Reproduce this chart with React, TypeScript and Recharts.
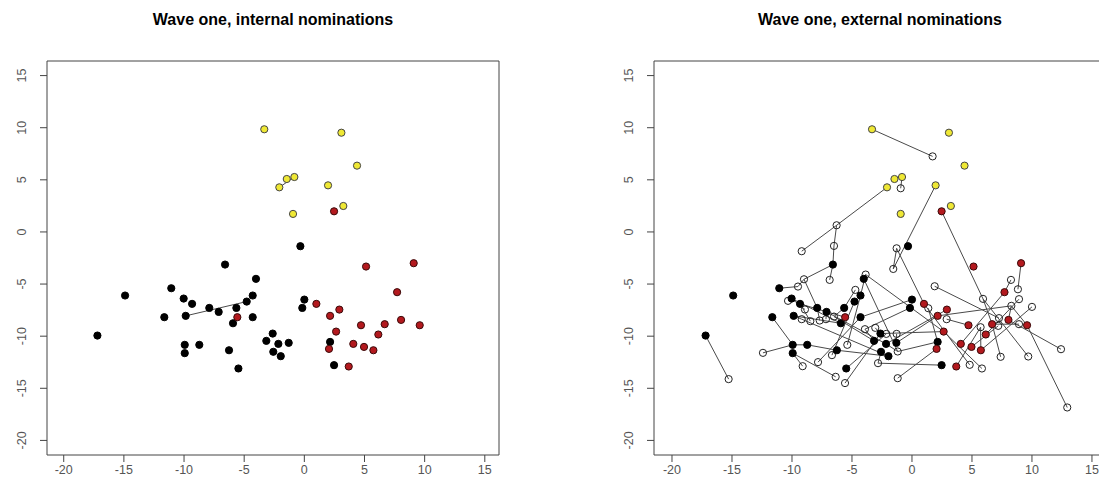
import React from 'react';
import { ScatterChart, Scatter, XAxis, YAxis, ReferenceArea } from 'recharts';

const axisTicks = [-20, -15, -10, -5, 0, 5, 10, 15];

// members of the network, in the plot's own units
const blackNodes: [number, number][] = [
    [-17.2, -9.94], [-14.9, -6.1], [-11.06, -5.4], [-11.64, -8.18], [-10.03, -6.39],
    [-9.33, -6.9], [-9.86, -8.05], [-7.9, -7.29], [-7.12, -7.67], [-5.65, -7.29],
    [-4.79, -6.68], [-4.29, -6.1], [-4.02, -4.5], [-6.59, -3.13], [-4.29, -8.18],
    [-5.93, -8.76], [-9.94, -10.83], [-9.94, -11.63], [-8.73, -10.83], [-6.26, -11.35],
    [-5.48, -13.1], [-2.63, -9.75], [-3.16, -10.45], [-2.16, -10.74], [-1.3, -10.64],
    [-2.58, -11.5], [-1.96, -11.92], [-0.33, -1.37], [0, -6.49], [-0.17, -7.29],
    [2.14, -10.55], [2.47, -12.78],
];

const redNodes: [number, number][] = [
    [2.47, 1.98], [5.13, -3.32], [9.09, -3.0], [7.71, -5.78], [1.0, -6.9],
    [2.14, -8.05], [2.91, -7.45], [2.64, -9.56], [4.71, -8.95], [6.68, -8.85],
    [8.04, -8.44], [9.59, -8.95], [6.15, -9.84], [4.07, -10.74], [4.96, -11.03],
    [5.74, -11.35], [2.05, -11.22], [3.69, -12.91], [-5.57, -8.18],
];

const yellowNodes: [number, number][] = [
    [-3.33, 9.85], [3.08, 9.52], [4.38, 6.36], [-2.08, 4.28], [-1.46, 5.08],
    [-0.83, 5.27], [1.97, 4.47], [3.24, 2.49], [-0.94, 1.73],
];

// people named from outside the school
const openNodes: [number, number][] = [
    [1.72, 7.25], [-0.94, 4.19], [-6.28, 0.64], [-9.19, -1.85], [-6.5, -1.34],
    [-1.28, -1.57], [-1.56, -3.55], [-9.0, -4.54], [-9.5, -5.24], [-6.86, -4.6],
    [-3.86, -4.09], [-4.72, -5.56], [1.89, -5.21], [5.92, -6.42], [8.25, -4.6],
    [8.83, -5.5], [8.92, -6.45], [10.0, -7.19], [8.28, -7.09], [1.36, -7.32],
    [2.89, -8.37], [5.72, -9.14], [7.25, -8.27], [7.19, -9.01], [8.92, -8.85],
    [-10.33, -6.61], [-8.92, -7.44], [-9.19, -8.37], [-8.47, -8.56], [-7.69, -8.5],
    [-7.17, -8.37], [-6.5, -8.12], [-5.39, -10.83], [-6.67, -11.82], [-7.83, -12.49],
    [-9.11, -12.88], [-6.36, -13.9], [-5.58, -14.5], [-12.42, -11.6], [-15.28, -14.12],
    [-3.92, -9.33], [-3.06, -9.2], [-2.14, -9.78], [-1.28, -9.78], [-1.19, -11.47],
    [-2.83, -12.59], [-1.19, -14.03], [4.81, -12.75], [5.83, -13.1], [7.39, -11.98],
    [9.69, -11.95], [12.42, -11.25], [12.94, -16.84],
];

const internalEdges: [string, string][] = [['b7', 'b11'], ['y4', 'y6']];

const externalEdges: [string, string][] = [
    ['y1', 'o1'], ['y6', 'o2'], ['y4', 'o3'], ['o3', 'o4'], ['o3', 'o5'], ['o5', 'b14'],
    ['y7', 'o7'], ['o6', 'o7'], ['o6', 'r5'], ['r5', 'o48'], ['r1', 'o14'], ['r3', 'o16'],
    ['o15', 'r4'], ['r4', 'r14'], ['o14', 'r10'], ['r10', 'o50'], ['o14', 'o51'], ['r12', 'o53'],
    ['r12', 'o19'], ['r11', 'o19'], ['r11', 'o52'], ['r13', 'o17'], ['r6', 'o19'], ['o21', 'r9'],
    ['o22', 'r16'], ['r16', 'o18'], ['r18', 'o22'], ['r8', 'o49'], ['o11', 'r8'], ['o13', 'o23'],
    ['r15', 'o24'], ['r10', 'o25'], ['b22', 'r8'], ['b32', 'o46'], ['r17', 'o47'], ['o45', 'b31'],
    ['o20', 'b31'], ['b25', 'r6'], ['b24', 'r7'], ['b1', 'o40'], ['b3', 'o9'], ['o9', 'o8'],
    ['o8', 'b14'], ['o10', 'b14'], ['o8', 'b8'], ['b5', 'o26'], ['b5', 'o27'], ['b5', 'b16'],
    ['b6', 'r19'], ['b7', 'o28'], ['b7', 'b16'], ['b6', 'o29'], ['b8', 'o30'], ['b9', 'o31'],
    ['b10', 'o32'], ['b10', 'o12'], ['b12', 'o11'], ['b13', 'o11'], ['b13', 'o45'], ['o33', 'b12'],
    ['o34', 'b11'], ['o35', 'b15'], ['o38', 'b22'], ['b21', 'o43'], ['b20', 'b27'], ['b19', 'b20'],
    ['b18', 'o36'], ['b18', 'o37'], ['o39', 'b17'], ['b17', 'b19'], ['b4', 'b17'], ['b23', 'o41'],
    ['b22', 'o42'], ['b25', 'o44'], ['b24', 'o45'], ['b26', 'o46'], ['b29', 'b15'], ['b30', 'o41'],
    ['o28', 'b27'], ['b9', 'b24'], ['o32', 'b23'],
];

type Pt = { x: number; y: number };
const toPoints = (list: [number, number][]): Pt[] => list.map(([x, y]) => ({ x, y }));

const lookup: Record<string, Pt> = {};
const addNodes = (prefix: string, list: [number, number][]) =>
    list.forEach(([x, y], i) => { lookup[prefix + (i + 1)] = { x, y }; });
addNodes('b', blackNodes);
addNodes('r', redNodes);
addNodes('y', yellowNodes);
addNodes('o', openNodes);

const FONT = '"Liberation Sans", Arial, Helvetica, sans-serif';
const Y_DOMAIN: [number, number] = [-21.4, 16.4];

const dot = (fill: string, stroke: string) => (p: any) => (
    <circle cx={p.cx} cy={p.cy} r={3.6} fill={fill} stroke={stroke} strokeWidth={1} />
);

const XTick = (p: any) => (
    <text x={p.x} y={p.y} dy='0.71em' textAnchor='middle' fill='#555' fontSize={12.5} fontFamily={FONT}>
        {p.payload.value}
    </text>
);

const YTick = (p: any) => (
    <text x={p.x} y={p.y} transform={`rotate(-90, ${p.x}, ${p.y})`} textAnchor='middle' fill='#555' fontSize={12.5} fontFamily={FONT}>
        {p.payload.value}
    </text>
);

type PanelProps = {
    width: number;
    yAxisWidth: number;
    marginRight: number;
    xDomain: [number, number];
    edges: [string, string][];
    showOpen: boolean;
};

function Panel({ width, yAxisWidth, marginRight, xDomain, edges, showOpen }: PanelProps) {
    return (
        <ScatterChart width={width} height={496} margin={{ top: 61, right: marginRight, bottom: 0, left: 0 }}>
            <XAxis
                type='number'
                dataKey='x'
                domain={xDomain}
                ticks={axisTicks}
                interval={0}
                allowDataOverflow
                height={41}
                axisLine={false}
                tickSize={7}
                tickMargin={3}
                tickLine={{ stroke: '#444' }}
                tick={XTick}
            />
            <YAxis
                type='number'
                dataKey='y'
                domain={Y_DOMAIN}
                ticks={axisTicks}
                interval={0}
                allowDataOverflow
                width={yAxisWidth}
                axisLine={false}
                tickSize={7}
                tickMargin={14}
                tickLine={{ stroke: '#444' }}
                tick={YTick}
            />
            <ReferenceArea x1={xDomain[0]} x2={xDomain[1]} y1={Y_DOMAIN[0]} y2={Y_DOMAIN[1]} fill='none' stroke='#444' strokeWidth={1} />
            {edges.map(([a, b], i) => (
                <Scatter
                    key={'e' + i}
                    data={[lookup[a], lookup[b]]}
                    line={{ stroke: '#4a4a4a', strokeWidth: 1 }}
                    shape={() => <g />}
                    isAnimationActive={false}
                />
            ))}
            {showOpen && (
                <Scatter data={toPoints(openNodes)} shape={dot('none', '#222')} isAnimationActive={false} />
            )}
            <Scatter data={toPoints(blackNodes)} shape={dot('#000', '#000')} isAnimationActive={false} />
            <Scatter data={toPoints(redNodes)} shape={dot('#b3191e', '#3a0a0a')} isAnimationActive={false} />
            <Scatter data={toPoints(yellowNodes)} shape={dot('#efe834', '#444')} isAnimationActive={false} />
        </ScatterChart>
    );
}

const titleStyle = (center: number): React.CSSProperties => ({
    position: 'absolute',
    left: center - 200,
    width: 400,
    top: 11,
    lineHeight: '18px',
    textAlign: 'center',
    fontFamily: FONT,
    fontWeight: 'bold',
    fontSize: 16,
    color: '#000',
});

export default function App() {
    return (
        <div style={{ position: 'absolute', left: 0, top: 0, width: 1099, height: 496, overflow: 'hidden', background: '#fff' }}>
            <div style={titleStyle(273)}>Wave one, internal nominations</div>
            <div style={titleStyle(880)}>Wave one, external nominations</div>
            <div style={{ position: 'absolute', left: 0, top: 0 }}>
                <Panel width={530} yAxisWidth={47} marginRight={31} xDomain={[-21.39, 16.18]} edges={internalEdges} showOpen={false} />
            </div>
            <div style={{ position: 'absolute', left: 560, top: 0 }}>
                <Panel width={560} yAxisWidth={94} marginRight={14} xDomain={[-21.5, 16.17]} edges={externalEdges} showOpen={true} />
            </div>
        </div>
    );
}
